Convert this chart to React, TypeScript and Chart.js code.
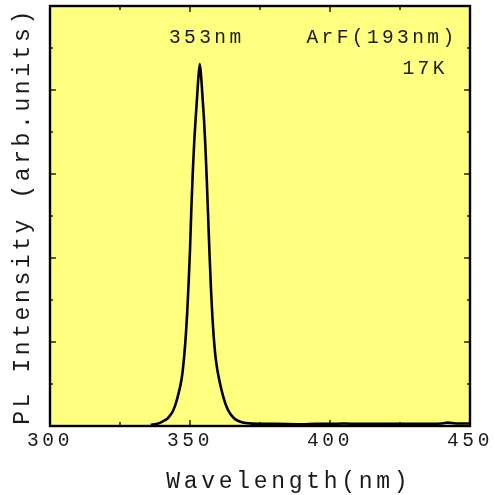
import { useEffect, useRef } from "react";
import { Chart, registerables } from "chart.js";

Chart.register(...registerables);

// Wavelength (nm)
const wavelengths = [
  336, 338, 340, 342, 343, 344, 345, 346, 347, 347.5, 348, 348.5, 349, 349.5,
  350, 350.5, 351, 351.5, 352, 352.5, 353, 353.5, 354, 354.5, 355, 355.5, 356,
  356.5, 357, 357.5, 358, 358.5, 359, 359.5, 360, 361, 362, 363, 364, 365, 366, 368,
  370, 375, 380, 390, 395, 400, 405, 410, 420, 430, 440, 442, 445, 450,
];
// PL intensity (arb. units)
const intensity = [
  0.03, 0.05, 0.1, 0.18, 0.26, 0.37, 0.55, 0.8, 1.12, 1.38, 1.72, 2.15, 2.7, 3.4,
  4.19, 5.2, 6.05, 6.75, 7.3, 7.8, 8.3, 8.62, 8.3, 7.8, 7.3, 6.65, 5.85,
  4.95, 4.05, 3.25, 2.6, 2.1, 1.72, 1.45, 1.25, 0.93, 0.67, 0.47, 0.33, 0.24, 0.17, 0.1,
  0.07, 0.05, 0.05, 0.04, 0.05, 0.05, 0.06, 0.05, 0.05, 0.05, 0.06, 0.08, 0.06, 0.06,
];

const xTickLabels = [300, 350, 400, 450];
const xMajorMarks = [350, 400];
const xMinorMarks = [325, 375, 425];
const yMajorMarks = [2, 4, 6, 8];
const yMinorMarks = [1, 3, 5, 7, 9];

const xTitle = "Wavelength(nm)";
const yTitle = "PL Intensity (arb.units)";
const annotationTexts = ["353nm", "ArF(193nm)", "17K"];
const annotationX = [342.5, 391.6, 425.9];
const annotationY = [9.12, 9.12, 8.38];

const FONT = "'Liberation Mono', 'DejaVu Sans Mono', monospace";
const TEXT = "#1a1a1a";
const PLOT_BG = "#FFFF80";

export default function App() {
  const ref = useRef<HTMLCanvasElement | null>(null);

  useEffect(() => {
    const canvas = ref.current;
    if (!canvas) return;

    const framePlugin = {
      id: "frame",
      beforeDraw(chart: any) {
        const { ctx, chartArea: a } = chart;
        ctx.letterSpacing = "3.6px";
        ctx.save();
        ctx.fillStyle = PLOT_BG;
        ctx.fillRect(a.left, a.top, a.right - a.left, a.bottom - a.top);
        ctx.restore();
      },
      afterDatasetsDraw(chart: any) {
        const { ctx, chartArea: a, scales } = chart;
        const xs = scales.x;
        const ys = scales.y;
        ctx.save();
        ctx.strokeStyle = "#000";
        ctx.lineWidth = 1.3;
        const tick = (x1: number, y1: number, x2: number, y2: number) => {
          ctx.beginPath();
          ctx.moveTo(x1, y1);
          ctx.lineTo(x2, y2);
          ctx.stroke();
        };
        xMajorMarks.forEach((v) => {
          const p = xs.getPixelForValue(v);
          tick(p, a.bottom, p, a.bottom - 6);
          tick(p, a.top, p, a.top + 6);
        });
        xMinorMarks.forEach((v) => {
          const p = xs.getPixelForValue(v);
          tick(p, a.bottom, p, a.bottom - 4);
          tick(p, a.top, p, a.top + 4);
        });
        yMajorMarks.forEach((v) => {
          const p = ys.getPixelForValue(v);
          tick(a.left, p, a.left + 6, p);
          tick(a.right, p, a.right - 6, p);
        });
        yMinorMarks.forEach((v) => {
          const p = ys.getPixelForValue(v);
          tick(a.left, p, a.left + 3, p);
          tick(a.right, p, a.right - 3, p);
        });
        ctx.lineWidth = 2.4;
        ctx.strokeRect(a.left, a.top, a.right - a.left, a.bottom - a.top);

        ctx.fillStyle = TEXT;
        ctx.font = `19.5px ${FONT}`;
        ctx.letterSpacing = "3.4px";
        ctx.textBaseline = "alphabetic";
        ctx.textAlign = "left";
        annotationTexts.forEach((t, i) => {
          ctx.fillText(t, xs.getPixelForValue(annotationX[i]), ys.getPixelForValue(annotationY[i]));
        });

        // x-axis title (placed right of centre, as in the original figure)
        ctx.font = `23px ${FONT}`;
        ctx.letterSpacing = "3.7px";
        ctx.textAlign = "left";
        ctx.fillText(xTitle, a.left + (a.right - a.left) * 0.565 - 121, chart.height - 7);
        ctx.restore();
      },
    };

    const chart = new Chart(canvas, {
      type: "line",
      data: {
        datasets: [
          {
            data: wavelengths.map((w, i) => ({ x: w, y: intensity[i] })),
            borderColor: "#000",
            borderWidth: 2.6,
            pointRadius: 0,
            fill: false,
            cubicInterpolationMode: "monotone",
          },
        ],
      },
      options: {
        animation: false,
        responsive: false,
        devicePixelRatio: 1,
        layout: { padding: { left: 0, top: 6, right: 24, bottom: 0 } },
        plugins: { legend: { display: false }, tooltip: { enabled: false } },
        scales: {
          x: {
            type: "linear",
            min: 300,
            max: 450,
            afterBuildTicks: (s: any) => {
              s.ticks = xTickLabels.map((v) => ({ value: v }));
            },
            ticks: {
              font: { family: FONT, size: 19.5 },
              color: TEXT,
              padding: 3,
              maxRotation: 0,
              autoSkip: false,
            },
            grid: { display: false, drawTicks: false },
            border: { display: false },
            title: { display: false },
            afterFit: (s: any) => {
              s.height = 69;
            },
          },
          y: {
            type: "linear",
            min: 0,
            max: 10,
            ticks: { display: false },
            grid: { display: false, drawTicks: false },
            border: { display: false },
            title: {
              display: true,
              text: yTitle,
              font: { family: FONT, size: 23 },
              color: TEXT,
              padding: { top: 9, bottom: 0 },
            },
            afterFit: (s: any) => {
              s.width = 50;
            },
          },
        },
      },
      plugins: [framePlugin],
    } as any);

    return () => chart.destroy();
  }, []);

  return (
    <div style={{ position: "absolute", left: 0, top: 0, width: 494, height: 495, background: "#fff" }}>
      <canvas ref={ref} width={494} height={495} style={{ width: 494, height: 495, display: "block" }} />
    </div>
  );
}
